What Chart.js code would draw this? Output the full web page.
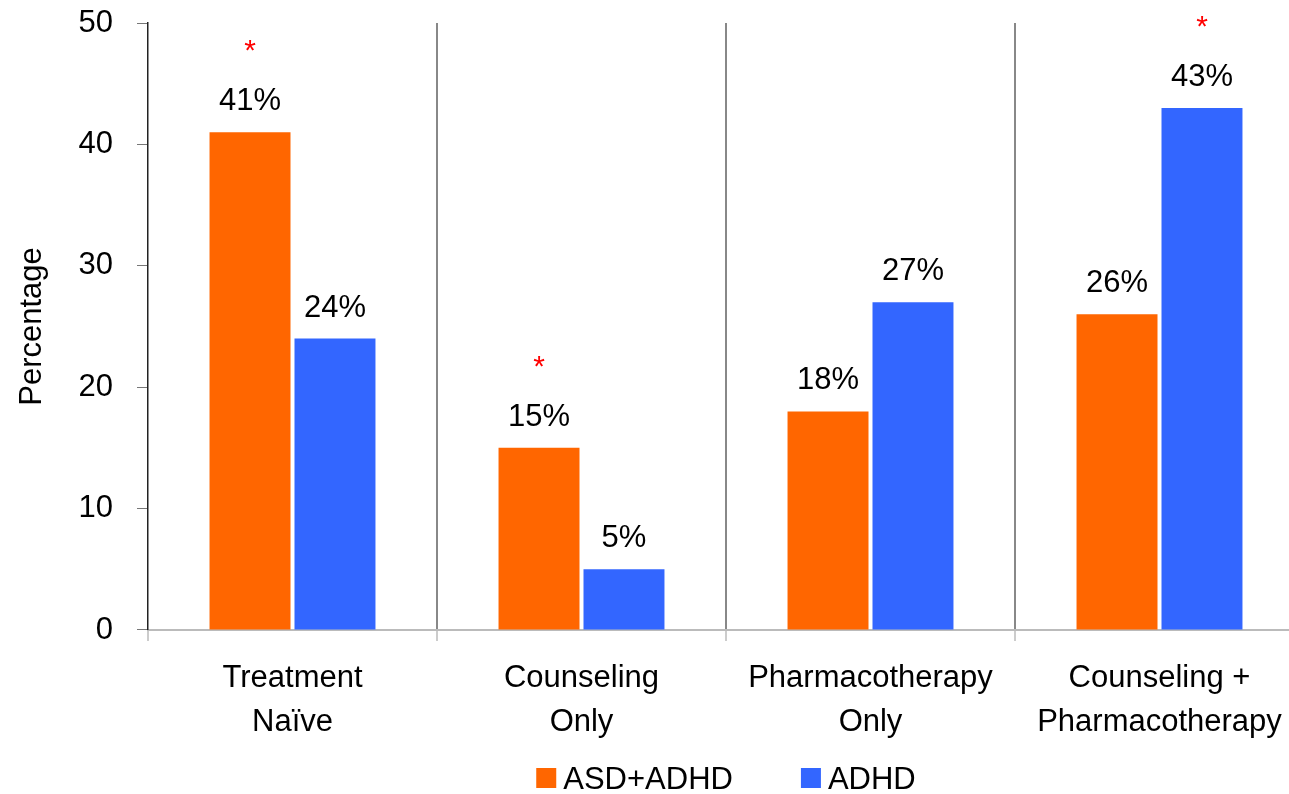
<!DOCTYPE html>
<html>
<head>
<meta charset="utf-8">
<script src="https://cdn.jsdelivr.net/npm/chart.js@4/dist/chart.umd.min.js"></script>
<style>
  html, body { margin: 0; padding: 0; background: #fff; overflow: hidden; }
</style>
</head>
<body>
<canvas id="barChart" width="1304" height="794"></canvas>
<script>
const categories = [["Treatment", "Naïve"], ["Counseling", "Only"], ["Pharmacotherapy", "Only"], ["Counseling +", "Pharmacotherapy"]];
const asdAdhd = [41, 15, 18, 26];
const adhd = [24, 5, 27, 43];
// significance markers (*) per bar
const asdAdhdStars = [true, true, false, false];
const adhdStars = [false, false, false, true];
const yTicks = [0, 10, 20, 30, 40, 50];

const FONT = '"Liberation Sans", Arial, sans-serif';
const SIZE = 31;
Chart.defaults.font.family = FONT;
Chart.defaults.color = "#000";

// value labels, asterisks and the legend row under the axis
const barLabels = {
    id: "barLabels",
    afterDatasetsDraw(chart) {
        const ctx = chart.ctx;
        const stars = [asdAdhdStars, adhdStars];
        chart.data.datasets.forEach((ds, i) => {
            chart.getDatasetMeta(i).data.forEach((bar, j) => {
                ctx.save();
                ctx.textAlign = "center";
                ctx.textBaseline = "alphabetic";
                ctx.fillStyle = "#000";
                ctx.font = SIZE + "px " + FONT;
                ctx.fillText(ds.data[j] + "%", bar.x, bar.y - 22);
                if (stars[i][j]) {
                    ctx.fillStyle = "#ff0000";
                    ctx.font = "30px " + FONT;
                    ctx.fillText("*", bar.x, bar.y - 72);
                }
                ctx.restore();
            });
        });
    },
    afterDraw(chart) {
        const ctx = chart.ctx;
        const area = chart.chartArea;
        ctx.save();
        ctx.font = SIZE + "px " + FONT;
        ctx.textBaseline = "alphabetic";
        ctx.textAlign = "left";
        const box = 20, textGap = 7, itemGap = 68;
        const items = chart.data.datasets.map(ds => ({
            text: ds.label, color: ds.backgroundColor, w: ctx.measureText(ds.label).width
        }));
        const total = items.reduce((s, it) => s + box + textGap + it.w, 0) + itemGap * (items.length - 1);
        let x = (area.left + area.right) / 2 - total / 2;
        const y = 768;
        items.forEach(it => {
            ctx.fillStyle = it.color;
            ctx.fillRect(x, y, box, box);
            ctx.fillStyle = "#000";
            ctx.fillText(it.text, x + box + textGap, y + 21);
            x += box + textGap + it.w + itemGap;
        });
        ctx.restore();
    }
};

const ctx = document.getElementById("barChart").getContext("2d");

new Chart(ctx, {
    type: "bar",
    data: {
        labels: categories,
        datasets: [
            {
                label: "ASD+ADHD",
                data: asdAdhd,
                backgroundColor: "#ff6600",
                categoryPercentage: 0.588,
                barPercentage: 0.953
            },
            {
                label: "ADHD",
                data: adhd,
                backgroundColor: "#3366ff",
                categoryPercentage: 0.588,
                barPercentage: 0.953
            }
        ]
    },
    options: {
        responsive: false,
        animation: false,
        layout: { padding: { top: 0, right: 0, bottom: 35, left: 0 } },
        plugins: {
            legend: { display: false },
            tooltip: { enabled: false }
        },
        scales: {
            x: {
                grid: {
                    color: (c) => c.index === 0 ? "rgba(0,0,0,0)" : "#888",
                    lineWidth: 2,
                    tickColor: "#ccc",
                    tickLength: 11,
                    offset: true
                },
                border: { color: "#bbb", width: 2 },
                ticks: {
                    font: { size: SIZE, lineHeight: 1.42 },
                    padding: 15,
                    color: "#000",
                    maxRotation: 0,
                    minRotation: 0,
                    autoSkip: false
                }
            },
            y: {
                min: 0,
                max: 50,
                afterFit: (s) => {
                    s.width = 148;
                    s.paddingTop = 23;
                    s.paddingBottom = 0;
                },
                afterBuildTicks: (s) => { s.ticks = yTicks.map(v => ({ value: v })); },
                grid: {
                    drawOnChartArea: false,
                    tickColor: "#777",
                    tickLength: 11
                },
                border: { color: "#222", width: 1.5 },
                ticks: { font: { size: SIZE }, padding: 24, color: "#000" },
                title: {
                    display: true,
                    text: "Percentage",
                    font: { size: SIZE },
                    padding: { top: 14, bottom: 0 },
                    color: "#000"
                }
            }
        }
    },
    plugins: [barLabels]
});
</script>
</body>
</html>
